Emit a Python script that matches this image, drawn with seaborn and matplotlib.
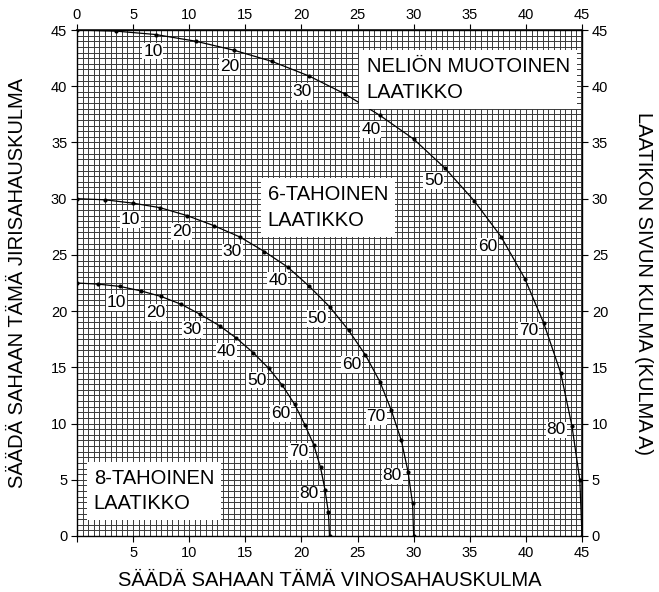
import numpy as np
import matplotlib
matplotlib.use("Agg")
import matplotlib.pyplot as plt
import seaborn as sns

# side angle of the box (kulma A), dot every 5 degrees
side_angles = [0, 5, 10, 15, 20, 25, 30, 35, 40, 45, 50, 55, 60, 65, 70, 75, 80, 85, 90]

# square box: bevel (x) and miter (y)
square_bevel = [0.0, 3.5, 7.0, 10.6, 14.0, 17.4, 20.7, 23.9, 27.0, 30.0, 32.8, 35.4,
                37.8, 39.9, 41.6, 43.1, 44.1, 44.8, 45.0]
square_miter = [45.0, 44.9, 44.6, 44.0, 43.2, 42.2, 40.9, 39.3, 37.4, 35.3, 32.7, 29.8,
                26.6, 22.9, 18.9, 14.5, 9.8, 5.0, 0.0]

# 6-sided box
hex_bevel = [0.0, 2.5, 5.0, 7.4, 9.8, 12.2, 14.5, 16.7, 18.8, 20.7, 22.5, 24.2,
             25.7, 27.0, 28.0, 28.9, 29.5, 29.9, 30.0]
hex_miter = [30.0, 29.9, 29.6, 29.2, 28.5, 27.6, 26.6, 25.3, 23.9, 22.2, 20.4, 18.3,
             16.1, 13.7, 11.2, 8.5, 5.7, 2.9, 0.0]

# 8-sided box
oct_bevel = [0.0, 1.9, 3.8, 5.7, 7.5, 9.3, 11.0, 12.7, 14.2, 15.7, 17.1, 18.3,
             19.4, 20.3, 21.1, 21.7, 22.1, 22.4, 22.5]
oct_miter = [22.5, 22.4, 22.2, 21.8, 21.3, 20.6, 19.7, 18.7, 17.6, 16.3, 14.9, 13.4,
             11.7, 9.9, 8.1, 6.1, 4.1, 2.1, 0.0]

label_angles = [10, 20, 30, 40, 50, 60, 70, 80]
ticks = [0, 5, 10, 15, 20, 25, 30, 35, 40, 45]

sns.set_theme(style="white")
plt.rcParams["font.family"] = ["Liberation Sans", "DejaVu Sans"]
plt.rcParams["text.color"] = "black"
plt.rcParams["axes.labelcolor"] = "black"
plt.rcParams["xtick.color"] = "black"
plt.rcParams["ytick.color"] = "black"

fig = plt.figure(figsize=(6.59, 5.92), dpi=100)
ax = fig.add_axes([0.1168, 0.0946, 0.7664, 0.8547])
ax.set_xlim(0, 45)
ax.set_ylim(0, 45)

# dense paper grid
ax.set_xticks(np.arange(0, 45.01, 0.5), minor=True)
ax.set_yticks(np.arange(0, 45.01, 0.5), minor=True)
ax.grid(which="both", color="#3a3a3a", linewidth=0.7)
ax.set_axisbelow(True)

for bevel, miter in [(square_bevel, square_miter), (hex_bevel, hex_miter), (oct_bevel, oct_miter)]:
    sns.lineplot(x=bevel, y=miter, sort=False, color="black", linewidth=0.9,
                 marker="o", markersize=3, markeredgewidth=0, ax=ax, zorder=3)
    bx = np.array(bevel)
    my = np.array(miter)
    for a in label_angles:
        i = side_angles.index(a)
        tx = bx[i + 1] - bx[i - 1]
        ty = my[i + 1] - my[i - 1]
        n = np.hypot(tx, ty)
        nx, ny = ty / n, -tx / n
        ax.annotate(str(a), (bx[i], my[i]), xytext=(nx * 11 - 0.5, ny * 11 - 1),
                    textcoords="offset points", ha="center", va="center",
                    fontsize=12.5, zorder=4,
                    bbox=dict(boxstyle="square,pad=0.05", fc="white", ec="none"))

box = dict(boxstyle="square,pad=0.35", fc="white", ec="none")
ax.text(25.8, 40.6, "NELIÖN MUOTOINEN\nLAATIKKO", fontsize=14.5, ha="left", va="center",
        linespacing=1.45, bbox=box, zorder=5)
ax.text(17.0, 29.2, "6-TAHOINEN\nLAATIKKO", fontsize=14.5, ha="left", va="center",
        linespacing=1.45, bbox=box, zorder=5)
ax.text(1.5, 4.0, "8-TAHOINEN\nLAATIKKO", fontsize=14.5, ha="left", va="center",
        linespacing=1.45, bbox=box, zorder=5)

for s in ax.spines.values():
    s.set_color("black")
    s.set_linewidth(1.0)

ax.set_xticks(ticks)
ax.set_xticklabels([""] + [str(t) for t in ticks[1:]])
ax.set_yticks(ticks)
ax.set_yticklabels([str(t) for t in ticks])
ax.tick_params(which="major", direction="out", length=4, width=0.8, color="black",
               labelcolor="black", labelsize=10.5, pad=3, left=True, bottom=True)
ax.tick_params(which="minor", length=0)

top = ax.secondary_xaxis("top")
top.set_xticks(ticks)
top.tick_params(direction="out", length=4, width=0.8, color="black", labelcolor="black",
                labelsize=10.5, pad=2)
right = ax.secondary_yaxis("right")
right.set_yticks(ticks)
right.tick_params(direction="out", length=4, width=0.8, color="black", labelcolor="black",
                  labelsize=10.5, pad=3)

ax.set_xlabel("SÄÄDÄ SAHAAN TÄMÄ VINOSAHAUSKULMA", fontsize=14.5, labelpad=8, color="black")
ax.set_ylabel("SÄÄDÄ SAHAAN TÄMÄ JIRISAHAUSKULMA", fontsize=14.5, labelpad=17, color="black")
right.set_ylabel("LAATIKON SIVUN KULMA (KULMA A)", fontsize=14.5, rotation=270, labelpad=32,
                 color="black")

fig.savefig("out.png", dpi=100)
